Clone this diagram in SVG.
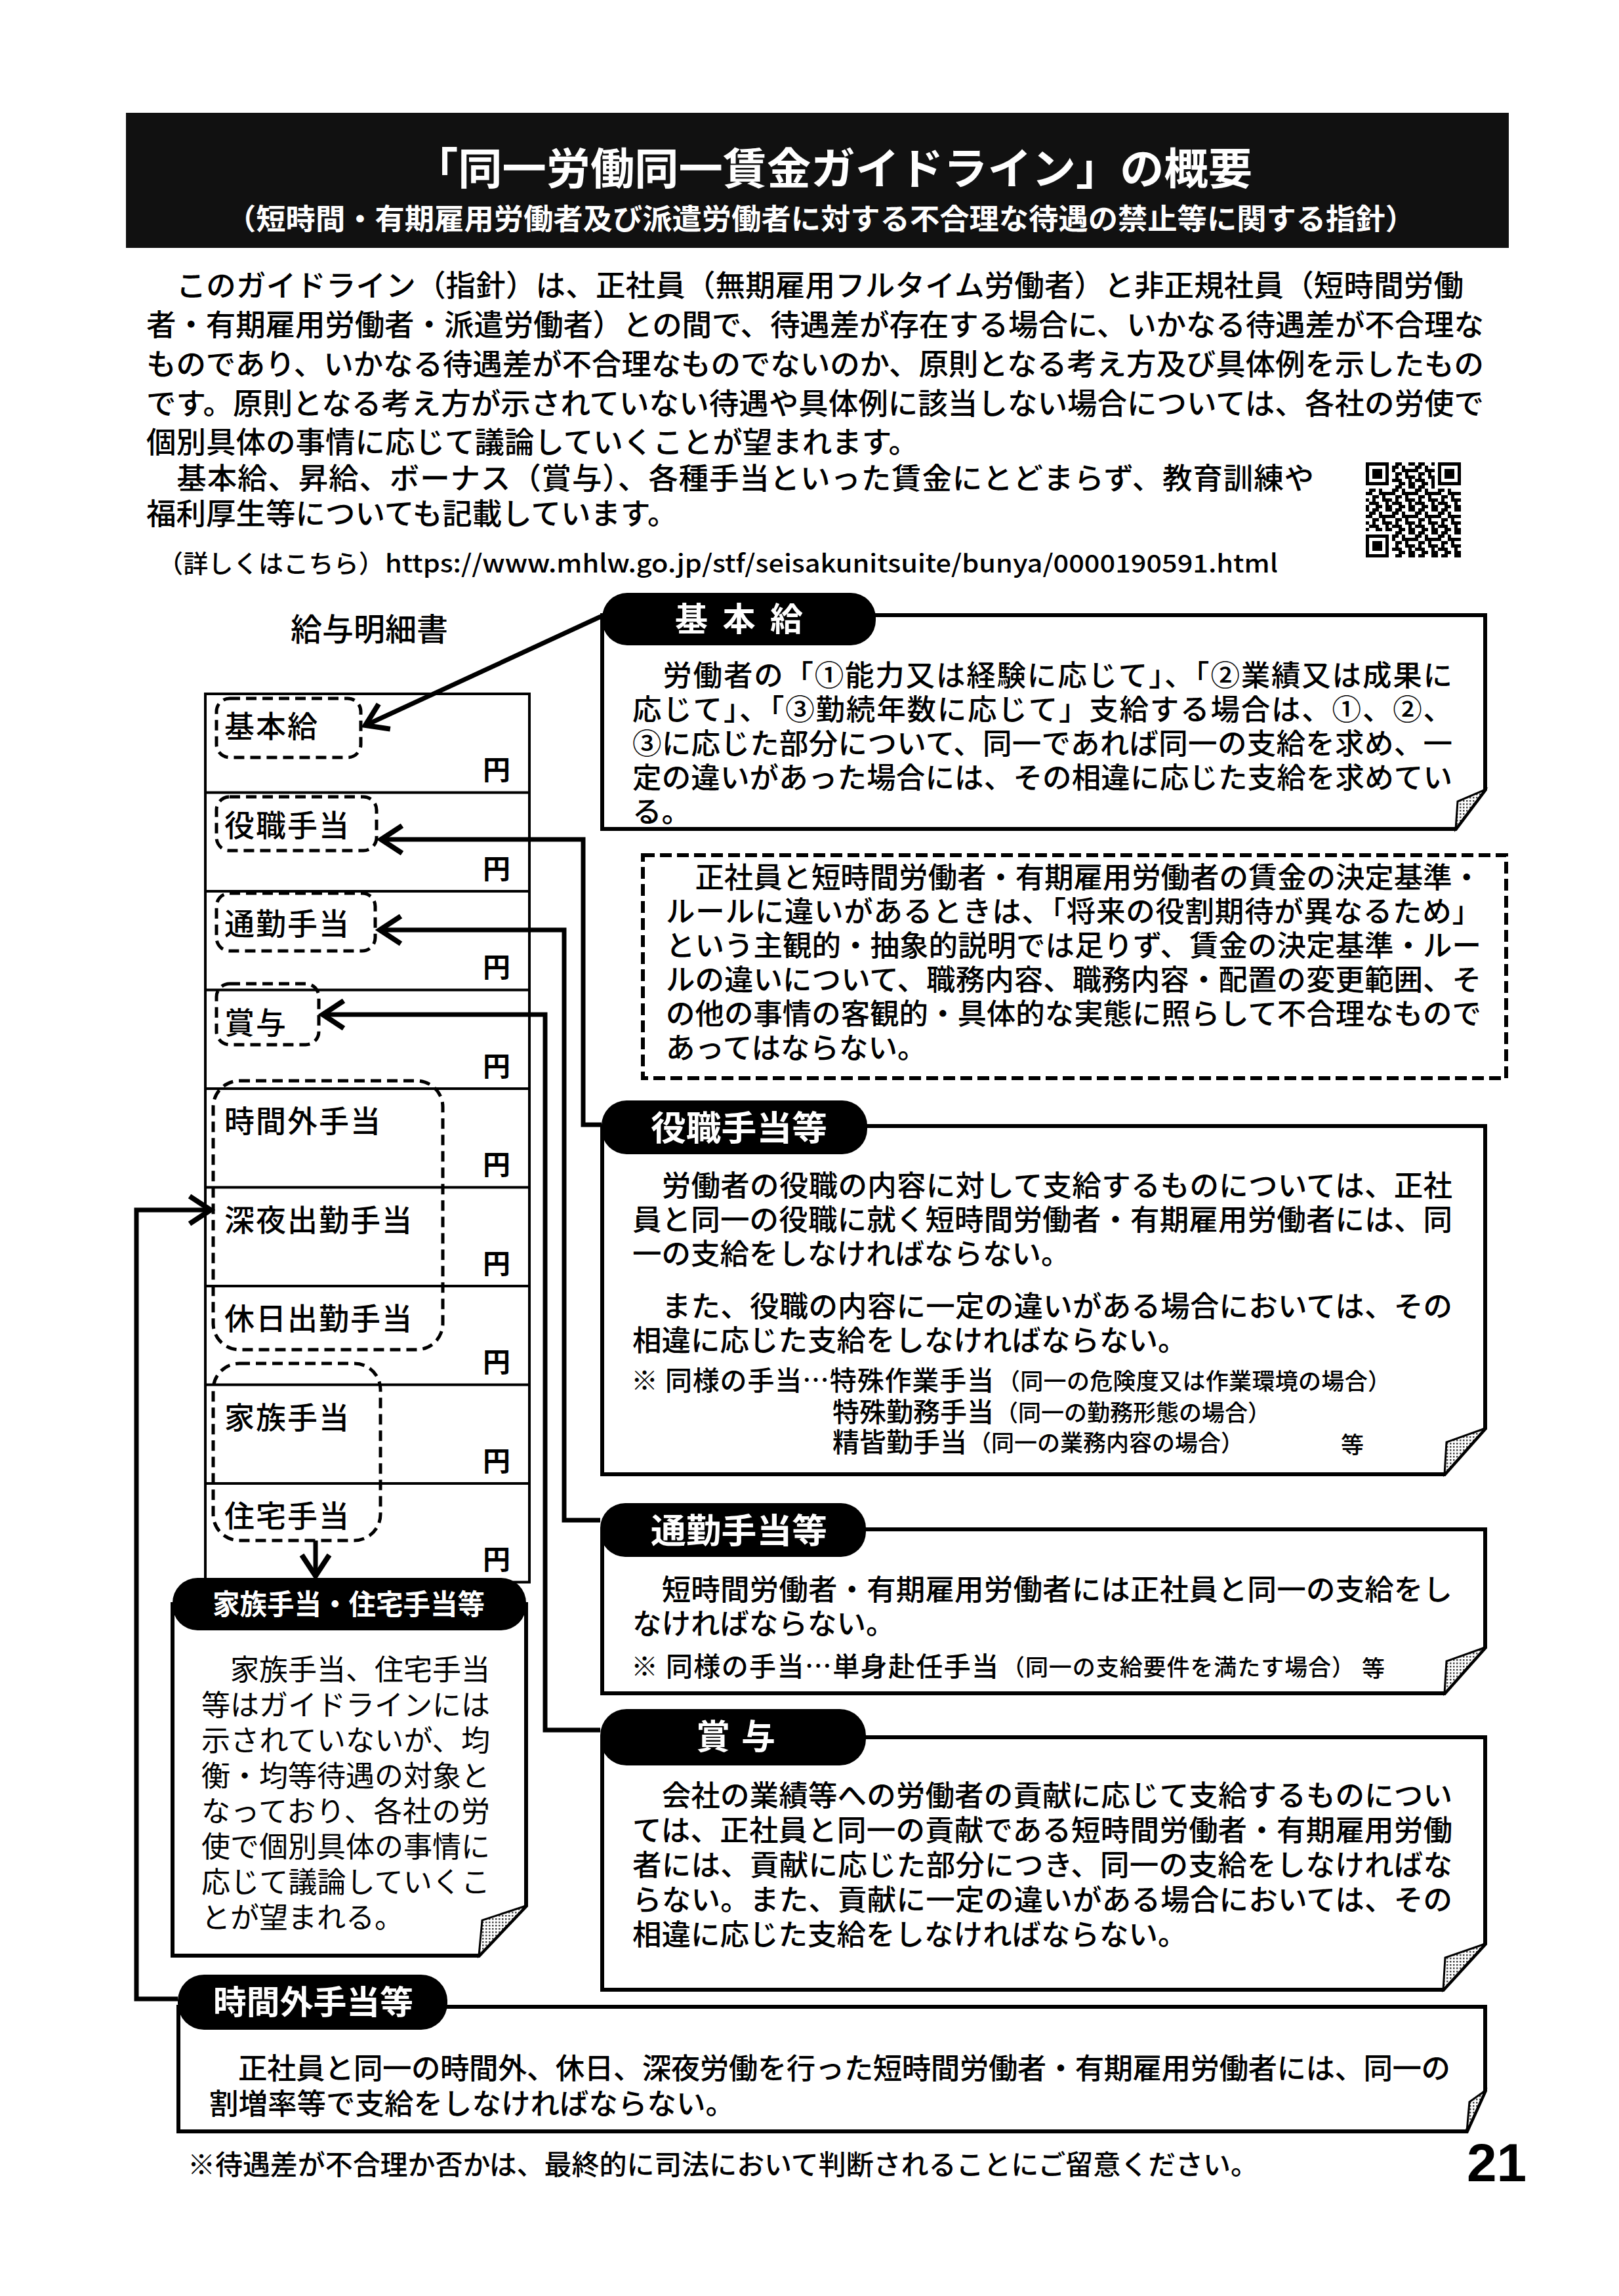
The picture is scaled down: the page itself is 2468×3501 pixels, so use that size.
<svg xmlns="http://www.w3.org/2000/svg" width="2468" height="3501" viewBox="0 0 2468 3501">
<defs>
<style>
.jp{font-family:"Noto Sans CJK JP","Noto Sans CJK SC",sans-serif;fill:#000;}
.body{font-size:45.5px;font-weight:500;}
.bx{font-size:44.5px;font-weight:500;}
.tab{fill:#000;}
.tabt{font-family:"Noto Sans CJK JP","Noto Sans CJK SC",sans-serif;fill:#fff;font-weight:700;}
.box{fill:#fff;stroke:#000;stroke-width:6;stroke-linejoin:miter;}
.fold{fill:url(#dots);stroke:#000;stroke-width:3;}
.dash{fill:none;stroke:#000;stroke-width:5;stroke-dasharray:16 9;}
.cell{fill:none;stroke:#000;stroke-width:4;}
.lbl{font-size:46px;font-weight:500;letter-spacing:2px;}
.yen{font-size:42px;font-weight:700;}
.conn{fill:none;stroke:#000;stroke-width:7;stroke-linejoin:miter;marker-end:url(#chev);}
.note{font-size:41px;font-weight:500;}
.small{font-size:35px;font-weight:500;}
</style>
<marker id="chev" markerUnits="userSpaceOnUse" viewBox="-40 -30 50 60" markerWidth="50" markerHeight="60" refX="0" refY="0" orient="auto" overflow="visible">
<path d="M-32,-21 L0,0 L-32,21" fill="none" stroke="#000" stroke-width="8"/>
</marker>
<pattern id="dots" width="5" height="5" patternUnits="userSpaceOnUse">
<rect width="5" height="5" fill="#fff"/><rect width="2.5" height="2.5" fill="#444"/>
</pattern>
<pattern id="qr" x="2082" y="705" width="35" height="35" patternUnits="userSpaceOnUse">
<rect width="35" height="35" fill="#fff"/>
<path fill="#000" d="M0,0h5v5h-5zM10,0h5v5h-5zM15,0h5v5h-5zM30,0h5v5h-5zM5,5h5v5h-5zM10,5h5v5h-5zM20,5h5v5h-5zM0,10h5v5h-5zM5,10h5v5h-5zM20,10h5v5h-5zM25,10h5v5h-5zM30,10h5v5h-5zM10,15h5v5h-5zM15,15h5v5h-5zM25,15h5v5h-5zM0,20h5v5h-5zM10,20h5v5h-5zM25,20h5v5h-5zM30,20h5v5h-5zM5,25h5v5h-5zM10,25h5v5h-5zM15,25h5v5h-5zM30,25h5v5h-5zM0,30h5v5h-5zM15,30h5v5h-5zM20,30h5v5h-5zM30,30h5v5h-5z"/>
</pattern>
</defs>
<rect width="2468" height="3501" fill="#fff"/>

<g id="title">
<rect x="192" y="172" width="2108" height="206" fill="#111"/>
<text class="tabt" x="631" y="281" font-size="66" textLength="1278" lengthAdjust="spacingAndGlyphs">「同一労働同一賃金ガイドライン」の概要</text>
<text class="tabt" x="345" y="350" font-size="44" textLength="1812" lengthAdjust="spacingAndGlyphs">（短時間・有期雇用労働者及び派遣労働者に対する不合理な待遇の禁止等に関する指針）</text>
</g>

<g id="intro" class="jp body">
<text x="223" y="452" textLength="2008">　このガイドライン（指針）は、正社員（無期雇用フルタイム労働者）と非正規社員（短時間労働</text>
<text x="223" y="512" textLength="2039">者・有期雇用労働者・派遣労働者）との間で、待遇差が存在する場合に、いかなる待遇差が不合理な</text>
<text x="223" y="572" textLength="2039">ものであり、いかなる待遇差が不合理なものでないのか、原則となる考え方及び具体例を示したもの</text>
<text x="223" y="632" textLength="2039">です。原則となる考え方が示されていない待遇や具体例に該当しない場合については、各社の労使で</text>
<text x="223" y="691">個別具体の事情に応じて議論していくことが望まれます。</text>
<text x="223" y="746" textLength="1780">　基本給、昇給、ボーナス（賞与）、各種手当といった賃金にとどまらず、教育訓練や</text>
<text x="223" y="800">福利厚生等についても記載しています。</text>
<text x="241" y="873" font-size="38" textLength="344">（詳しくはこちら）</text>
<text x="587" y="873" font-size="38" textLength="1361" lengthAdjust="spacingAndGlyphs">https://www.mhlw.go.jp/stf/seisakunitsuite/bunya/0000190591.html</text>
</g>

<g id="qrcode">
<rect x="2082" y="705" width="145" height="145" fill="url(#qr)"/>
<rect x="2082" y="705" width="40" height="40" fill="#fff"/>
<rect x="2082" y="705" width="35" height="35" fill="#000"/>
<rect x="2087" y="710" width="25" height="25" fill="#fff"/>
<rect x="2092" y="715" width="15" height="15" fill="#000"/>
<rect x="2187" y="705" width="40" height="40" fill="#fff"/>
<rect x="2192" y="705" width="35" height="35" fill="#000"/>
<rect x="2197" y="710" width="25" height="25" fill="#fff"/>
<rect x="2202" y="715" width="15" height="15" fill="#000"/>
<rect x="2082" y="810" width="40" height="40" fill="#fff"/>
<rect x="2082" y="815" width="35" height="35" fill="#000"/>
<rect x="2087" y="820" width="25" height="25" fill="#fff"/>
<rect x="2092" y="825" width="15" height="15" fill="#000"/>
</g>

<g id="payslip">
<text class="jp" x="563" y="977" font-size="48" font-weight="500" text-anchor="middle">給与明細書</text>
<rect class="cell" x="313" y="1058" width="494" height="1354.5"/>
<path class="cell" d="M313,1208.5H807M313,1359H807M313,1509.5H807M313,1660H807M313,1810.5H807M313,1961H807M313,2111.5H807M313,2262H807"/>
<g class="jp lbl">
<text x="342" y="1124">基本給</text>
<text x="342" y="1274.5">役職手当</text>
<text x="342" y="1425">通勤手当</text>
<text x="342" y="1575.5">賞与</text>
<text x="342" y="1726">時間外手当</text>
<text x="342" y="1876.5">深夜出勤手当</text>
<text x="342" y="2027">休日出勤手当</text>
<text x="342" y="2177.5">家族手当</text>
<text x="342" y="2328">住宅手当</text>
</g>
<g class="jp yen" text-anchor="middle">
<text x="757" y="1189">円</text>
<text x="757" y="1339.5">円</text>
<text x="757" y="1490">円</text>
<text x="757" y="1640.5">円</text>
<text x="757" y="1791">円</text>
<text x="757" y="1941.5">円</text>
<text x="757" y="2092">円</text>
<text x="757" y="2242.5">円</text>
<text x="757" y="2393">円</text>
</g>
<rect class="dash" x="330" y="1065" width="220" height="90" rx="20"/>
<rect class="dash" x="330" y="1215" width="244" height="82" rx="20"/>
<rect class="dash" x="330" y="1362" width="242" height="88" rx="20"/>
<rect class="dash" x="330" y="1500" width="156" height="93" rx="20"/>
<rect class="dash" x="325" y="1648" width="350" height="410" rx="40"/>
<rect class="dash" x="325" y="2079" width="255" height="270" rx="40"/>
</g>

<g id="connectors">
<path class="conn" d="M916,940 L557,1106"/>
<path class="conn" d="M917,1715 H889 V1280 H581"/>
<path class="conn" d="M915,2318 H860 V1418 H579"/>
<path class="conn" d="M915,2638 H831 V1547 H492"/>
<path class="conn" d="M271,3048 H208 V1845 H321"/>
<path class="conn" d="M481,2349 V2403"/>
</g>

<g id="kihonkyu">
<path class="box" d="M918,938 H2264 V1204 L2219,1264 H918 Z"/>
<path class="fold" d="M2219,1264 L2222,1222 L2264,1204 Z"/>
<rect class="tab" x="918" y="904" width="417" height="80" rx="38"/>
<text class="tabt" x="1029" y="962" font-size="50" textLength="195">基本給</text>
<g class="jp bx">
<text x="964" y="1046" textLength="1250">　労働者の「①能力又は経験に応じて」、「②業績又は成果に</text>
<text x="964" y="1098" textLength="1250">応じて」、「③勤続年数に応じて」支給する場合は、①、②、</text>
<text x="964" y="1150" textLength="1250">③に応じた部分について、同一であれば同一の支給を求め、一</text>
<text x="964" y="1202" textLength="1250">定の違いがあった場合には、その相違に応じた支給を求めてい</text>
<text x="964" y="1254">る。</text>
</g>
</g>

<g id="note">
<rect x="980" y="1304" width="1316" height="340" fill="none" stroke="#000" stroke-width="6" stroke-dasharray="18 8"/>
<g class="jp bx">
<text x="1015" y="1354" textLength="1243">　正社員と短時間労働者・有期雇用労働者の賃金の決定基準・</text>
<text x="1015" y="1406" textLength="1243">ルールに違いがあるときは、「将来の役割期待が異なるため」</text>
<text x="1015" y="1458" textLength="1243">という主観的・抽象的説明では足りず、賃金の決定基準・ルー</text>
<text x="1015" y="1510" textLength="1243">ルの違いについて、職務内容、職務内容・配置の変更範囲、そ</text>
<text x="1015" y="1562" textLength="1243">の他の事情の客観的・具体的な実態に照らして不合理なもので</text>
<text x="1015" y="1614">あってはならない。</text>
</g>
</g>

<g id="yakushoku">
<path class="box" d="M918,1717 H2264 V2178 L2202,2248 H918 Z"/>
<path class="fold" d="M2202,2248 L2205,2199 L2264,2178 Z"/>
<rect class="tab" x="917" y="1678" width="405" height="82" rx="38"/>
<text class="tabt" x="992" y="1739" font-size="52" textLength="269" lengthAdjust="spacingAndGlyphs">役職手当等</text>
<g class="jp bx">
<text x="964" y="1824" textLength="1250">　労働者の役職の内容に対して支給するものについては、正社</text>
<text x="964" y="1876" textLength="1250">員と同一の役職に就く短時間労働者・有期雇用労働者には、同</text>
<text x="964" y="1928">一の支給をしなければならない。</text>
<text x="964" y="2008" textLength="1250">　また、役職の内容に一定の違いがある場合においては、その</text>
<text x="964" y="2060">相違に応じた支給をしなければならない。</text>
</g>
<g class="jp">
<text class="note" x="962" y="2120" textLength="553">※ 同様の手当…特殊作業手当</text>
<text class="small" x="1520" y="2119" textLength="600">（同一の危険度又は作業環境の場合）</text>
<text class="note" x="1269" y="2168" textLength="246">特殊勤務手当</text>
<text class="small" x="1517" y="2167" textLength="420">（同一の勤務形態の場合）</text>
<text class="note" x="1269" y="2214" textLength="205">精皆勤手当</text>
<text class="small" x="1476" y="2213" textLength="420">（同一の業務内容の場合）</text>
<text class="small" x="2044" y="2216">等</text>
</g>
</g>

<g id="tsukin">
<path class="box" d="M918,2332 H2264 V2512 L2202,2582 H918 Z"/>
<path class="fold" d="M2202,2582 L2205,2533 L2264,2512 Z"/>
<rect class="tab" x="915" y="2292" width="405" height="82" rx="38"/>
<text class="tabt" x="992" y="2353" font-size="52" textLength="269" lengthAdjust="spacingAndGlyphs">通勤手当等</text>
<g class="jp bx">
<text x="964" y="2440" textLength="1250">　短時間労働者・有期雇用労働者には正社員と同一の支給をし</text>
<text x="964" y="2492">なければならない。</text>
</g>
<g class="jp">
<text class="note" x="962" y="2556" textLength="560">※ 同様の手当…単身赴任手当</text>
<text class="small" x="1527" y="2555" textLength="538">（同一の支給要件を満たす場合）</text>
<text class="small" x="2076" y="2557">等</text>
</g>
</g>

<g id="shoyo">
<path class="box" d="M918,2649 H2264 V2964 L2200,3034 H918 Z"/>
<path class="fold" d="M2200,3034 L2203,2985 L2264,2964 Z"/>
<rect class="tab" x="915" y="2606" width="405" height="86" rx="40"/>
<text class="tabt" x="1061" y="2667" font-size="52" textLength="121">賞与</text>
<g class="jp bx">
<text x="964" y="2754" textLength="1250">　会社の業績等への労働者の貢献に応じて支給するものについ</text>
<text x="964" y="2807" textLength="1250">ては、正社員と同一の貢献である短時間労働者・有期雇用労働</text>
<text x="964" y="2860" textLength="1250">者には、貢献に応じた部分につき、同一の支給をしなければな</text>
<text x="964" y="2913" textLength="1250">らない。また、貢献に一定の違いがある場合においては、その</text>
<text x="964" y="2966">相違に応じた支給をしなければならない。</text>
</g>
</g>

<g id="kazoku">
<path class="box" d="M263,2446 H802 V2906 L730,2982 H263 Z"/>
<path class="fold" d="M730,2982 L735,2928 L802,2906 Z"/>
<rect class="tab" x="263" y="2406" width="539" height="80" rx="38"/>
<text class="tabt" x="324" y="2462" font-size="43" textLength="415" lengthAdjust="spacingAndGlyphs">家族手当・住宅手当等</text>
<g class="jp" font-size="44" font-weight="400">
<text x="307" y="2562" textLength="440">　家族手当、住宅手当</text>
<text x="307" y="2616" textLength="440">等はガイドラインには</text>
<text x="307" y="2670" textLength="440">示されていないが、均</text>
<text x="307" y="2724" textLength="440">衡・均等待遇の対象と</text>
<text x="307" y="2778" textLength="440">なっており、各社の労</text>
<text x="307" y="2832" textLength="440">使で個別具体の事情に</text>
<text x="307" y="2886" textLength="440">応じて議論していくこ</text>
<text x="307" y="2940">とが望まれる。</text>
</g>
</g>

<g id="jikangai">
<path class="box" d="M272,3060 H2264 V3188 L2236,3250 H272 Z"/>
<path class="fold" d="M2236,3250 L2240,3205 L2264,3188 Z"/>
<rect class="tab" x="271" y="3011" width="411" height="84" rx="40"/>
<text class="tabt" x="325" y="3071" font-size="50" textLength="305" lengthAdjust="spacingAndGlyphs">時間外手当等</text>
<g class="jp bx">
<text x="319" y="3170" textLength="1892">　正社員と同一の時間外、休日、深夜労働を行った短時間労働者・有期雇用労働者には、同一の</text>
<text x="319" y="3224">割増率等で支給をしなければならない。</text>
</g>
</g>

<g id="footer">
<text class="jp" x="286" y="3316" font-size="42" font-weight="500" textLength="1632">※待遇差が不合理か否かは、最終的に司法において判断されることにご留意ください。</text>
<text x="2236" y="3326" font-family="Liberation Sans, Arial, sans-serif" font-size="82" font-weight="700">21</text>
</g>
</svg>
